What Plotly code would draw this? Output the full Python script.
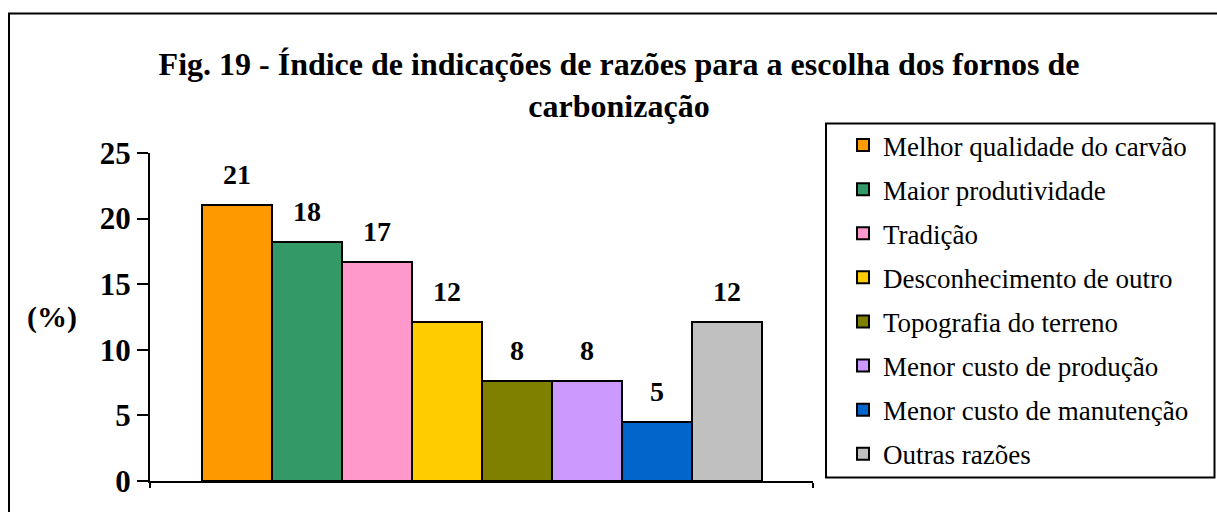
import plotly.graph_objects as go

# ---- data ----
categories = [
    "Melhor qualidade do carvão",
    "Maior produtividade",
    "Tradição",
    "Desconhecimento de outro",
    "Topografia do terreno",
    "Menor custo de produção",
    "Menor custo de manutenção",
    "Outras razões",
]
values = [21.0, 18.2, 16.7, 12.1, 7.6, 7.6, 4.5, 12.1]
colors = ["#FF9900", "#339966", "#FF99CC", "#FFCC00", "#808000", "#CC99FF", "#0066CC", "#C0C0C0"]
y_ticks = [0, 5, 10, 15, 20, 25]
title_text = "Fig. 19 - Índice de indicações de razões para a escolha dos fornos de<br>carbonização"
y_label = "(%)"

# ---- layout geometry ----
W, H = 1217, 512
ML, MR, MT, MB = 150, 404, 153, 31
PW, PH = W - ML - MR, H - MT - MB
FONT = "Liberation Serif, Times New Roman, serif"


def px_x(px):
    return (px - ML) / PW


def px_y(py):
    return (H - MB - py) / PH


n = len(values)
bar_px = 70.0
pad_units = ((PW - n * bar_px) / 2) / bar_px
x_lo = -0.5 - pad_units
x_hi = n - 0.5 + pad_units

fig = go.Figure()
for i, (name, v, c) in enumerate(zip(categories, values, colors)):
    fig.add_trace(go.Bar(
        x=[i], y=[v], name=name, legendgroup=name,
        marker=dict(color=c, line=dict(color="black", width=2)),
        hoverinfo="skip",
    ))
    fig.add_annotation(
        x=i, y=v, text="<b>%d</b>" % int(v + 0.5), showarrow=False,
        yanchor="bottom", yshift=13,
        font=dict(family=FONT, size=28, color="black"),
    )

fig.add_annotation(
    xref="paper", yref="paper", x=px_x(52), y=0.5, text="<b>%s</b>" % y_label,
    showarrow=False, xanchor="center", yanchor="middle",
    font=dict(family=FONT, size=30, color="black"),
)

# outer frame
fig.add_shape(type="rect", xref="paper", yref="paper",
              x0=px_x(9), x1=px_x(W + 10), y0=px_y(H + 10), y1=px_y(13.5),
              line=dict(color="black", width=2), layer="below")
# legend box
fig.add_shape(type="rect", xref="paper", yref="paper",
              x0=px_x(826), x1=px_x(1214.5), y0=px_y(477.5), y1=px_y(123.5),
              line=dict(color="black", width=2), layer="above")

fig.update_layout(
    width=W, height=H,
    margin=dict(l=ML, r=MR, t=MT, b=MB, pad=0),
    paper_bgcolor="white", plot_bgcolor="white",
    barmode="overlay", bargap=0,
    title=dict(text="<b>%s</b>" % title_text, xref="container", yref="container",
               x=619 / W, xanchor="center", y=1 - 75 / H, yanchor="top",
               font=dict(family=FONT, size=32, color="black")),
    xaxis=dict(range=[x_lo, x_hi], showgrid=False, zeroline=False,
               showline=True, linecolor="black", linewidth=2,
               tickmode="array", tickvals=[x_lo + 1e-6, x_hi - 1e-6], ticktext=["", ""],
               ticks="outside", ticklen=5, tickwidth=2, tickcolor="black"),
    yaxis=dict(range=[0, 25], tickvals=y_ticks, showgrid=False, zeroline=False,
               showline=True, linecolor="black", linewidth=2,
               ticks="outside", ticklen=11, tickwidth=2, tickcolor="black",
               tickfont=dict(family=FONT, size=31, color="black", weight="bold")),
    legend=dict(x=px_x(826), y=px_y(121), xanchor="left", yanchor="top",
                borderwidth=0, bgcolor="rgba(0,0,0,0)",
                font=dict(family=FONT, size=27, color="black"),
                tracegroupgap=6, indentation=17, traceorder="grouped",
                maxheight=1.0),
    showlegend=True,
)

fig.write_html("out.html", config={"displayModeBar": False},
               post_script="document.body.style.margin='0';document.body.style.overflow='hidden';")
